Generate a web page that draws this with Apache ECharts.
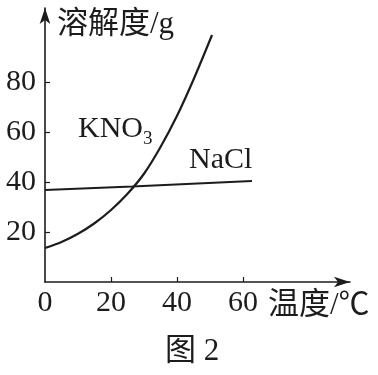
<!DOCTYPE html>
<html><head><meta charset="utf-8">
<script src="https://cdn.jsdelivr.net/npm/echarts@6/dist/echarts.min.js"></script>
<style>html,body{margin:0;padding:0;background:#fff}#c{width:378px;height:375px}</style>
</head><body><div id="c"></div>
<script>
// Data
const kno3Temps = [0, 5, 10, 15, 20, 25, 30, 35, 40, 45, 50.6];
const kno3Values = [13.6, 16, 19.3, 23.5, 28.8, 35.3, 43.3, 54, 66.5, 81, 98.8];
const naclTemps = [0, 26.4, 62.7];
const naclValues = [36.8, 38.2, 40.4];
const xTickLabels = [0, 20, 40, 60];
const yTickLabels = [20, 40, 60, 80];

const FONT = "'Liberation Serif', 'Noto Sans CJK SC', serif";
const INK = '#1c1c1c';

const chart = echarts.init(document.getElementById('c'), null, {renderer: 'canvas'});
chart.setOption({
  animation: false,
  backgroundColor: '#fff',
  grid: {left: 45, right: 28, top: 8, bottom: 93, containLabel: false},
  xAxis: {
    type: 'value', min: 0, max: 92.4,
    splitLine: {show: false},
    axisLine: {lineStyle: {color: INK, width: 1.6}, symbol: ['none', 'arrow'], symbolSize: [8, 16]},
    axisTick: {inside: true, length: 5, lineStyle: {color: INK, width: 1.2}, customValues: xTickLabels.filter(v => v > 0)},
    axisLabel: {customValues: xTickLabels, color: INK, fontFamily: FONT, fontSize: 30, margin: 6}
  },
  yAxis: {
    type: 'value', min: 0, max: 109.6,
    splitLine: {show: false},
    axisLine: {lineStyle: {color: INK, width: 1.6}, symbol: ['none', 'arrow'], symbolSize: [8, 16]},
    axisTick: {inside: true, length: 5, lineStyle: {color: INK, width: 1.2}, customValues: yTickLabels},
    axisLabel: {customValues: yTickLabels, color: INK, fontFamily: FONT, fontSize: 30, margin: 9}
  },
  series: [
    {type: 'line', name: 'KNO3', data: kno3Temps.map((t, i) => [t, kno3Values[i]]),
     smooth: 0.3, showSymbol: false, lineStyle: {color: INK, width: 2.2}},
    {type: 'line', name: 'NaCl', data: naclTemps.map((t, i) => [t, naclValues[i]]),
     smooth: false, showSymbol: false, lineStyle: {color: INK, width: 2.2}}
  ],
  graphic: [
    {type: 'text', x: 57, y: 25, style: {text: '溶解度/g', font: '31px ' + FONT, fill: INK, verticalAlign: 'middle', align: 'left'}},
    {type: 'text', x: 268, y: 306, style: {text: '温度/℃', font: '31px ' + FONT, fill: INK, verticalAlign: 'middle', align: 'left'}},
    {type: 'text', x: 165, y: 352, style: {text: '图 2', font: '31px ' + FONT, fill: INK, verticalAlign: 'middle', align: 'left'}},
    {type: 'text', x: 78, y: 129, style: {text: '{a|KNO}{s|3}', fill: INK, verticalAlign: 'middle', align: 'left',
      rich: {a: {fontFamily: FONT, fontSize: 30, color: INK, verticalAlign: 'bottom'},
             s: {fontFamily: FONT, fontSize: 19, color: INK, verticalAlign: 'bottom', padding: [0, 0, -5, 0]}}}},
    {type: 'text', x: 189, y: 160, style: {text: 'NaCl', font: '30px ' + FONT, fill: INK, verticalAlign: 'middle', align: 'left'}}
  ]
});
</script></body></html>
